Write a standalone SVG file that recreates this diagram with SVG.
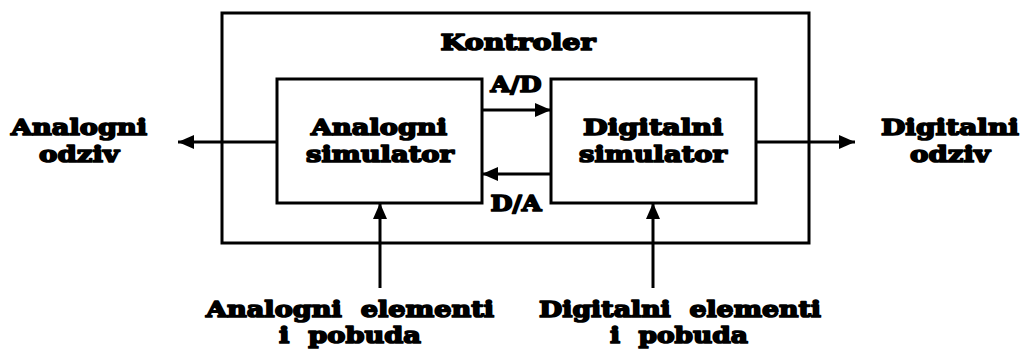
<svg xmlns="http://www.w3.org/2000/svg" width="1027" height="352" viewBox="0 0 1027 352">
  <defs>
    <marker id="arrow" viewBox="0 0 16 14" refX="16" refY="7" markerWidth="16" markerHeight="14" markerUnits="userSpaceOnUse" orient="auto">
      <path d="M0,0 L16,7 L0,14 Z" fill="#000"/>
    </marker>
  </defs>
  <style>
    .box { fill: #fff; stroke: #000; stroke-width: 3; }
    .wire { fill: none; stroke: #000; stroke-width: 3; marker-end: url(#arrow); }
    .lbl { font-family: "DejaVu Serif", "Liberation Serif", serif; font-weight: bold; font-size: 23px; fill: #000; stroke: #000; stroke-width: 1.7; stroke-linejoin: round; text-anchor: middle; }
  </style>
  <rect width="1027" height="352" fill="#fff"/>

  <g id="kontroler">
    <rect class="box" x="222" y="13" width="587" height="230"/>
    <text class="lbl" x="518" y="50" textLength="155" lengthAdjust="spacingAndGlyphs">Kontroler</text>
  </g>

  <g id="analogni-simulator">
    <rect class="box" x="277" y="79" width="205" height="124"/>
    <text class="lbl" x="379" y="135" textLength="136" lengthAdjust="spacingAndGlyphs">Analogni</text>
    <text class="lbl" x="380" y="162" textLength="148" lengthAdjust="spacingAndGlyphs">simulator</text>
  </g>

  <g id="digitalni-simulator">
    <rect class="box" x="551" y="79" width="205" height="124"/>
    <text class="lbl" x="653" y="135" textLength="140" lengthAdjust="spacingAndGlyphs">Digitalni</text>
    <text class="lbl" x="653" y="162" textLength="148" lengthAdjust="spacingAndGlyphs">simulator</text>
  </g>

  <g id="analogni-odziv">
    <text class="lbl" x="79" y="135" textLength="136" lengthAdjust="spacingAndGlyphs">Analogni</text>
    <text class="lbl" x="79" y="162" textLength="80" lengthAdjust="spacingAndGlyphs">odziv</text>
  </g>

  <g id="digitalni-odziv">
    <text class="lbl" x="950" y="135" textLength="138" lengthAdjust="spacingAndGlyphs">Digitalni</text>
    <text class="lbl" x="950" y="162" textLength="80" lengthAdjust="spacingAndGlyphs">odziv</text>
  </g>

  <g id="analogni-ulaz">
    <text class="lbl" x="350" y="317" textLength="288" lengthAdjust="spacingAndGlyphs" xml:space="preserve">Analogni  elementi</text>
    <text class="lbl" x="350" y="343" textLength="142" lengthAdjust="spacingAndGlyphs" xml:space="preserve">i  pobuda</text>
  </g>

  <g id="digitalni-ulaz">
    <text class="lbl" x="680" y="317" textLength="282" lengthAdjust="spacingAndGlyphs" xml:space="preserve">Digitalni  elementi</text>
    <text class="lbl" x="679" y="343" textLength="138" lengthAdjust="spacingAndGlyphs" xml:space="preserve">i  pobuda</text>
  </g>

  <g id="connectors">
    <line class="wire" x1="277" y1="142" x2="178" y2="142"/>
    <line class="wire" x1="756" y1="142" x2="855" y2="142"/>
    <line class="wire" x1="482" y1="110" x2="551" y2="110"/>
    <line class="wire" x1="551" y1="174" x2="482" y2="174"/>
    <line class="wire" x1="380" y1="288" x2="380" y2="203"/>
    <line class="wire" x1="653" y1="288" x2="653" y2="203"/>
    <text class="lbl" x="516" y="92" textLength="51" lengthAdjust="spacingAndGlyphs">A/D</text>
    <text class="lbl" x="516" y="211" textLength="51" lengthAdjust="spacingAndGlyphs">D/A</text>
  </g>
</svg>
